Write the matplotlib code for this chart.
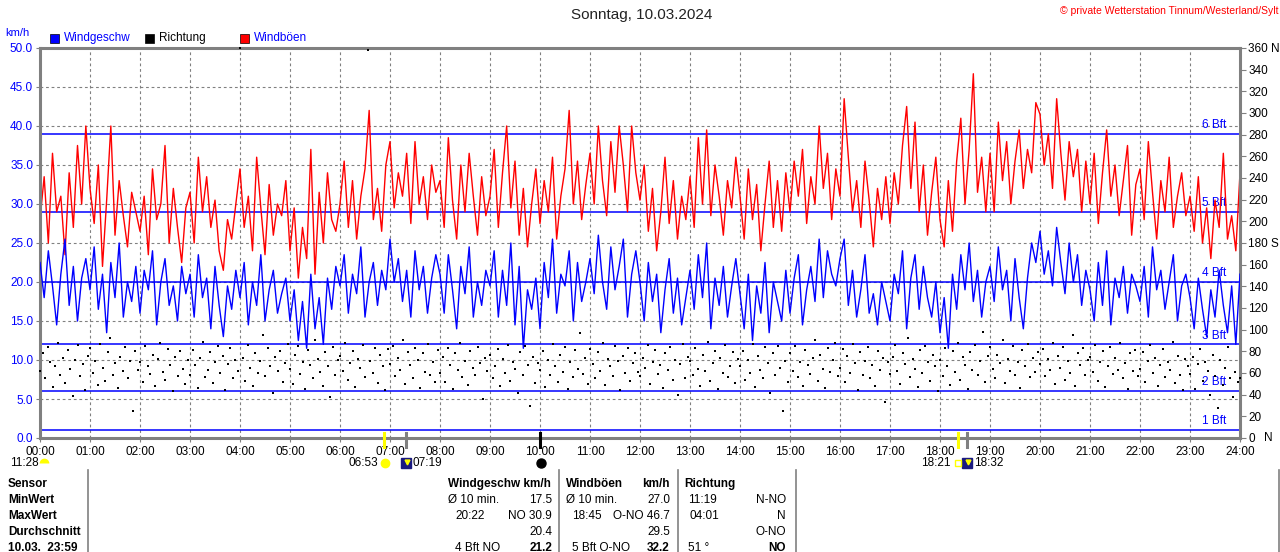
import matplotlib
matplotlib.use("Agg")
import matplotlib.pyplot as plt
from matplotlib.lines import Line2D
import numpy as np

plt.rcParams['font.family'] = ['Liberation Sans', 'DejaVu Sans']

W, H = 1280, 552

# Windgeschwindigkeit km/h, alle 5 min (00:00 .. 24:00)
speed = [
    22.5, 18.0, 24.0, 19.5, 14.5, 21.0, 25.5, 17.0, 22.0, 15.0, 20.5, 23.0,
    19.0, 24.5, 16.5, 21.0, 13.5, 22.5, 18.0, 25.0, 15.5, 20.0, 17.5, 22.0,
    16.0, 21.5, 19.0, 24.0, 14.5, 20.0, 23.0, 17.0, 19.5, 15.0, 22.0, 18.5,
    21.0, 15.5, 23.5, 18.0, 20.5, 14.0, 22.0, 17.0, 13.0, 19.5, 16.5, 21.5,
    18.0, 22.5, 14.5, 20.0, 17.0, 23.5, 15.0, 19.0, 21.5, 16.0, 18.5, 20.5,
    15.0, 19.0, 12.5, 17.5, 11.5, 21.0, 14.0, 18.0, 12.0, 20.5, 16.5, 22.0,
    19.5, 23.5, 16.0, 21.0, 18.5, 24.5, 15.5, 20.0, 22.5, 17.0, 21.5, 19.0,
    25.5, 20.0, 23.0, 17.5, 21.5, 15.5, 24.0, 19.0, 22.0, 16.0, 20.5, 23.5,
    21.0, 16.0, 23.5, 19.0, 14.0, 22.0, 18.5, 24.5, 15.5, 20.0, 17.0, 21.5,
    19.5, 24.0, 15.5, 21.5, 17.0, 25.0, 14.5, 22.0, 11.5, 19.0, 16.5, 20.5,
    14.0, 22.5, 18.0, 25.5, 16.0, 21.0, 19.5, 24.0, 15.0, 22.5, 17.5, 20.0,
    23.0, 18.5, 26.0, 20.0, 16.5, 24.5, 19.0, 22.0, 25.5, 15.5, 21.0, 24.0,
    20.0, 15.0, 22.5, 17.5, 21.0, 13.5, 19.0, 23.0, 16.0, 20.5, 14.5, 18.0,
    21.5, 16.5, 23.5, 18.0, 25.0, 14.0, 20.5, 17.0, 22.0, 15.5, 19.5, 23.0,
    18.5, 14.0, 21.0, 12.5, 19.5, 16.0, 22.5, 13.5, 20.0, 17.5, 15.0, 21.5,
    16.0, 20.5, 23.5, 14.5, 19.0, 22.0, 17.5, 25.5, 18.0, 24.0, 21.0, 19.5,
    23.0, 25.5, 17.0, 21.5, 15.5, 19.0, 23.5, 16.0, 18.5, 14.5, 20.0, 17.5,
    15.0, 21.0, 18.5, 24.0, 14.0, 20.5, 23.5, 16.5, 22.0, 18.0, 15.5, 20.0,
    13.5, 18.0, 11.5, 21.0, 16.5, 23.5, 19.0, 25.0, 17.5, 21.5, 15.5, 20.0,
    22.0, 17.5, 24.5, 19.0, 21.5, 15.0, 23.0, 18.0, 14.0, 20.5, 25.0, 22.5,
    26.5, 21.0, 24.0, 19.5, 27.0, 22.5, 18.5, 25.0, 20.0, 23.5, 17.0, 21.5,
    19.0, 15.0, 22.5, 17.0, 24.0, 14.5, 20.5, 18.0, 22.0, 16.0, 21.0, 19.5,
    17.5, 22.0, 15.5, 24.5, 19.0, 21.5, 16.5, 20.0, 23.5, 15.0, 19.5, 21.0,
    18.0, 14.0, 20.5, 16.5, 13.0, 19.0, 15.5, 21.5, 17.0, 13.5, 19.5, 12.0,
    21.0,
]

# Windböen km/h, alle 5 min
gusts = [
    28.0, 33.5, 25.0, 36.5, 29.0, 31.0, 23.5, 34.0, 27.0, 37.5, 30.0, 40.0,
    32.0, 27.5, 35.0, 22.0, 30.5, 40.0, 26.0, 33.0, 28.5, 24.5, 31.5, 29.0,
    26.5, 31.0, 23.5, 34.5, 28.0, 30.0, 37.5, 25.0, 32.0, 27.0, 22.5, 29.5,
    31.5, 25.0, 36.0, 29.0, 33.5, 27.0, 30.5, 24.0, 21.5, 28.0, 25.5, 30.0,
    34.5, 27.0, 31.0, 24.0, 36.0, 29.5, 23.5, 32.5, 26.0, 30.0, 28.5, 33.0,
    24.0, 29.5, 20.5, 27.0, 23.0, 37.0, 21.0, 31.5, 25.0, 34.0, 28.0, 26.5,
    30.0, 35.5, 27.0, 33.0, 25.5, 31.0, 34.5, 42.0, 28.0, 32.0, 26.5, 35.0,
    38.0, 29.5, 34.0, 31.0, 36.5, 27.5, 38.0, 30.0, 33.5, 28.0, 35.0, 31.5,
    33.0, 27.0, 38.5, 30.5, 25.5, 35.0, 29.0, 36.5, 31.0, 26.0, 33.5, 28.5,
    31.0, 37.0, 27.0, 34.0, 40.0, 29.5, 35.5, 26.0, 32.0, 24.5, 30.0, 34.5,
    27.5, 33.0, 29.0, 36.0, 25.5, 31.0, 34.5, 42.0, 30.0, 35.5, 28.0, 32.5,
    36.5, 30.0, 40.0, 33.0, 28.5, 38.0, 31.5, 40.0, 35.0, 29.0, 40.0, 34.0,
    30.5, 35.0, 26.5, 32.0, 24.0, 29.0, 36.0, 27.5, 33.0, 25.5, 31.0, 28.0,
    33.5, 27.0, 38.5, 30.0, 39.5, 28.5, 35.0, 31.0, 26.0, 33.0, 29.5, 36.0,
    31.0, 25.5, 34.5, 28.0, 32.5, 24.0, 30.0, 35.5, 27.0, 33.0, 26.5, 34.0,
    29.0, 35.5, 31.0, 37.0, 27.5, 33.5, 30.0, 40.0, 32.0, 36.5, 28.0, 34.5,
    31.0, 43.5, 36.0, 29.0, 33.0, 27.0, 35.5, 30.5, 24.5, 32.0, 28.0, 33.5,
    27.5, 34.0, 30.0, 37.5, 42.5, 32.0, 40.5, 29.0, 35.0, 26.0, 31.5, 36.0,
    28.0, 24.5, 33.0, 26.5, 35.5, 41.0, 30.0, 37.0, 46.7, 31.5, 36.0, 29.0,
    36.5, 29.0, 40.5, 33.0, 38.0, 30.0, 35.5, 39.5, 32.0, 37.0, 34.0, 43.0,
    41.5, 35.0, 39.0, 32.0, 43.5, 36.5, 30.5, 38.0, 33.5, 37.0, 29.0, 35.5,
    30.0, 36.5, 27.5, 34.0, 39.5, 31.0, 35.0, 28.5, 33.0, 37.5, 26.0, 32.5,
    34.5, 28.0, 38.0, 31.5, 25.5, 33.0, 29.0, 36.0, 27.0, 31.0, 34.0, 28.5,
    31.0, 26.5, 33.5, 25.0, 29.5, 23.0, 30.5, 27.0, 36.5, 25.5, 28.5, 24.0,
    34.0,
]

# Windrichtung in Grad, alle 3 min
direction = [
    62, 78, 55, 84, 70, 47, 66, 88, 58, 74, 51, 81, 64, 39, 72, 86, 57, 68, 44, 76,
    83, 60, 71, 49, 87, 65, 53, 79, 92, 58, 69, 46, 75, 62, 84, 55, 71, 25, 80, 63,
    70, 52, 85, 66, 59, 77, 48, 73, 88, 61, 54, 82, 67, 43, 75, 57, 80, 64, 50, 72,
    58, 81, 67, 46, 74, 89, 56, 63, 79, 51, 70, 85, 60, 76, 44, 68, 83, 55, 72, 62,
    360, 74, 53, 86, 65, 48, 78, 60, 71, 95, 57, 83, 66, 42, 75, 62, 80, 52, 69, 87,
    64, 50, 77, 85, 59, 70, 45, 81, 67, 55, 90, 73, 61, 48, 79, 66, 38, 84, 58, 72,
    76, 62, 88, 54, 69, 80, 47, 73, 65, 86, 56, 358, 71, 60, 83, 51, 77, 66, 44, 82,
    68, 85, 57, 74, 63, 90, 50, 79, 67, 55, 83, 72, 46, 78, 61, 87, 58, 70, 52, 81,
    60, 75, 52, 83, 67, 45, 78, 63, 88, 56, 71, 49, 80, 65, 58, 84, 69, 36, 74, 62,
    77, 55, 66, 82, 48, 73, 60, 86, 53, 70, 64, 42, 79, 58, 85, 67, 30, 75, 51, 69,
    63, 80, 47, 72, 58, 87, 66, 52, 77, 61, 84, 45, 70, 56, 81, 64, 97, 59, 74, 50,
    82, 68, 55, 79, 62, 88, 49, 73, 66, 57, 85, 71, 44, 76, 60, 83, 53, 69, 78, 61,
    57, 74, 65, 86, 50, 70, 81, 59, 67, 46, 78, 63, 84, 54, 72, 40, 68, 87, 55, 75,
    71, 58, 83, 64, 48, 77, 62, 89, 53, 69, 80, 45, 74, 60, 86, 56, 66, 79, 51, 73,
    66, 80, 54, 72, 60, 87, 47, 76, 63, 55, 84, 69, 42, 78, 58, 85, 65, 25, 71, 52,
    78, 62, 85, 56, 70, 48, 81, 67, 59, 74, 90, 53, 77, 64, 46, 83, 61, 72, 88, 57,
    65, 82, 52, 76, 60, 87, 69, 44, 79, 58, 71, 84, 55, 67, 48, 80, 63, 74, 33, 70,
    59, 75, 86, 62, 50, 78, 68, 92, 56, 73, 64, 47, 81, 60, 85, 70, 53, 77, 66, 43,
    72, 57, 83, 66, 49, 80, 61, 88, 54, 75, 67, 45, 79, 63, 86, 58, 71, 98, 52, 76,
    84, 64, 55, 77, 69, 90, 51, 73, 62, 85, 58, 70, 46, 81, 66, 87, 56, 74, 61, 79,
    68, 82, 57, 73, 63, 88, 50, 76, 65, 84, 54, 71, 60, 95, 48, 78, 67, 83, 58, 72,
    75, 61, 86, 53, 70, 80, 47, 66, 84, 59, 74, 63, 88, 55, 69, 45, 78, 62, 81, 57,
    64, 79, 52, 71, 86, 60, 74, 48, 67, 82, 56, 70, 63, 89, 51, 76, 58, 44, 73, 66,
    59, 75, 45, 68, 82, 53, 70, 62, 40, 77, 57, 28, 72, 49, 65, 84, 55, 38, 61, 52,
    55,
]

hour_labels = ["%02d:00" % h for h in range(25)]
kmh_ticks = [0, 5, 10, 15, 20, 25, 30, 35, 40, 45, 50]
deg_ticks = list(range(0, 361, 20))
deg_labels = [str(d) for d in deg_ticks]
deg_labels[0] = "0"
deg_labels[9] = "180 S"
deg_labels[18] = "360 N"

bft_levels = [1, 6, 12, 20, 29, 39]
bft_names = ["1 Bft", "2 Bft", "3 Bft", "4 Bft", "5 Bft", "6 Bft"]

# Sonne / Mond Zeiten
sunrise, sunset = "06:53", "18:21"
moonrise, moonset = "07:19", "18:32"
moon_left = "11:28"
phase_time = "10:00"

table_head = ["Sensor", "MinWert", "MaxWert", "Durchschnitt", "10.03.  23:59"]


def hrs(s):
    h, m = s.split(":")
    return int(h) + int(m) / 60.0


def fx(px):
    return px / W


def fy(py):
    return 1 - py / H


blue = "#0000ff"
gray = "#808080"

fig = plt.figure(figsize=(W / 100, H / 100), dpi=100)
ax = fig.add_axes([fx(40), fy(438), 1200 / W, 390 / H])

t_spd = np.arange(len(speed)) * 24.0 / (len(speed) - 1)
t_gst = np.arange(len(gusts)) * 24.0 / (len(gusts) - 1)
t_dir = np.arange(len(direction)) * 24.0 / (len(direction) - 1)

for lev, name in zip(bft_levels, bft_names):
    ax.axhline(lev, color=blue, lw=1.1, zorder=1.5)
    ax.text(23.72, lev + 0.35, name, color=blue, fontsize=8.5, ha="right",
            va="bottom", zorder=1.6)

ax.plot(t_gst, gusts, color="#ff0000", lw=1.0, zorder=2)
ax.plot(t_spd, speed, color=blue, lw=1.0, zorder=3)

ax.set_xlim(0, 24)
ax.set_ylim(0, 50)
ax.set_xticks(range(25))
ax.set_xticklabels(hour_labels)
ax.set_yticks(kmh_ticks)
ax.set_yticklabels(["%.1f" % v for v in kmh_ticks])
ax.grid(True, color=gray, linestyle=(0, (2.5, 2.5)), linewidth=0.8)
ax.set_axisbelow(True)
ax.tick_params(axis="x", length=3, color=gray, pad=3, labelsize=8.5, labelcolor="black")
ax.tick_params(axis="y", length=3, color=gray, pad=2, labelsize=8.5, labelcolor=blue)
for sp in ax.spines.values():
    sp.set_color(gray)
    sp.set_linewidth(2.2)

ax2 = ax.twinx()
ax2.scatter(t_dir, direction, s=4, marker="s", color="black", linewidths=0, zorder=4, clip_on=False)
ax2.set_ylim(0, 360)
ax2.set_yticks(deg_ticks)
ax2.set_yticklabels(deg_labels)
ax2.tick_params(axis="y", length=4, color=gray, pad=2, labelsize=8.5, labelcolor="black")
for sp in ax2.spines.values():
    sp.set_visible(False)
fig.text(fx(1264), fy(438), "N", fontsize=8.5, va="center", ha="left")

# Titel und Legende
fig.text(fx(642), fy(15), "Sonntag, 10.03.2024", fontsize=11, ha="center", va="center", color="#222222")
fig.text(fx(1278), fy(11), "© private Wetterstation Tinnum/Westerland/Sylt", fontsize=7.5,
         ha="right", va="center", color="#ff0000")
fig.text(fx(5), fy(33), "km/h", fontsize=8, color=blue, va="center")
legend_items = [(50, blue, "Windgeschw", blue), (145, "black", "Richtung", "black"),
                (240, "#ff0000", "Windböen", blue)]
for px, c, label, tc in legend_items:
    fig.add_artist(plt.Rectangle((fx(px), fy(43)), 9 / W, 9 / H, transform=fig.transFigure,
                                 facecolor=c, edgecolor="black", lw=0.5))
    fig.text(fx(px + 14), fy(38), label, fontsize=8.5, color=tc, va="center")

# Sonnen- und Mondmarken an der Achse
marks = [(sunrise, "#ffff00"), (moonrise, gray), (phase_time, "black"),
         (sunset, "#ffff00"), (moonset, gray)]
for tm, c in marks:
    ax.plot([hrs(tm), hrs(tm)], [0.64, -1.15], color=c, lw=2.2, clip_on=False, zorder=5)

yi = -3.2
ax.plot([hrs(sunrise) + 0.02], [yi], "o", color="#ffff00", ms=6, clip_on=False)
ax.text(hrs(sunrise) - 0.12, yi, sunrise, fontsize=8.5, ha="right", va="center")
for tm in [moonrise, moonset]:
    ax.plot([hrs(tm)], [yi], "s", color="#1a1a80", ms=7.5, clip_on=False)
    ax.plot([hrs(tm) + 0.02], [yi + 0.1], "v", color="#ffff00", ms=3.5, clip_on=False)
    ax.text(hrs(tm) + 0.14, yi, tm, fontsize=8.5, ha="left", va="center")
ax.plot([hrs(sunset) + 0.0], [yi], "s", mfc="none", mec="#ffff00", ms=4.5, clip_on=False)
ax.text(hrs(sunset) - 0.14, yi, sunset, fontsize=8.5, ha="right", va="center")
ax.plot([hrs(phase_time) + 0.02], [yi], "o", color="black", ms=6.5, clip_on=False)
ax.plot([0.08], [yi], "o", color="#ffff00", fillstyle="top", mew=0, ms=7, clip_on=False)
fig.text(fx(10), fy(463), moon_left, fontsize=8.5, va="center")

# Tabelle
for px in [88, 559, 678, 796, 1279]:
    fig.add_artist(Line2D([fx(px), fx(px)], [fy(470), fy(552)], color=gray, lw=1.2))

rows_y = [484, 500, 516, 532, 548]
for y, name in zip(rows_y, table_head):
    fig.text(fx(8), fy(y), name, fontsize=8.5, fontweight="bold", va="center")

fig.text(fx(448), fy(484), "Windgeschw km/h", fontsize=8.5, fontweight="bold", va="center")
fig.text(fx(566), fy(484), "Windböen", fontsize=8.5, fontweight="bold", va="center")
fig.text(fx(670), fy(484), "km/h", fontsize=8.5, fontweight="bold", va="center", ha="right")
fig.text(fx(684), fy(484), "Richtung", fontsize=8.5, fontweight="bold", va="center")

cells = [
    (448, 500, "Ø 10 min.", "left", "normal"), (552, 500, "17.5", "right", "normal"),
    (566, 500, "Ø 10 min.", "left", "normal"), (670, 500, "27.0", "right", "normal"),
    (688, 500, "11:19", "left", "normal"), (786, 500, "N-NO", "right", "normal"),
    (455, 516, "20:22", "left", "normal"), (552, 516, "NO 30.9", "right", "normal"),
    (572, 516, "18:45", "left", "normal"), (670, 516, "O-NO 46.7", "right", "normal"),
    (690, 516, "04:01", "left", "normal"), (786, 516, "N", "right", "normal"),
    (552, 532, "20.4", "right", "normal"), (670, 532, "29.5", "right", "normal"),
    (786, 532, "O-NO", "right", "normal"),
    (455, 548, "4 Bft NO", "left", "normal"), (552, 548, "21.2", "right", "bold"),
    (572, 548, "5 Bft O-NO", "left", "normal"), (670, 548, "32.2", "right", "bold"),
    (688, 548, "51 °", "left", "normal"), (786, 548, "NO", "right", "bold"),
]
for px, py, s, ha, fw in cells:
    fig.text(fx(px), fy(py), s, fontsize=8.5, ha=ha, va="center", fontweight=fw)

fig.savefig("out.png", dpi=100)
